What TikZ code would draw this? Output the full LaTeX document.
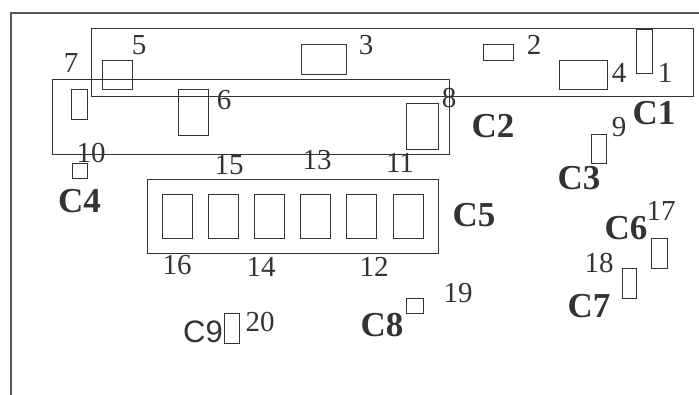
\documentclass[tikz,border=0pt]{standalone}
\usepackage{fontspec}
\setmainfont{Liberation Serif}
\newfontfamily\sansC{Liberation Sans}
\definecolor{ink}{HTML}{333333}
\definecolor{frame}{HTML}{555555}
\begin{document}
\begin{tikzpicture}[x=1pt,y=-1pt,
  part/.style={draw=ink,line width=0.8pt,inner sep=0pt,outer sep=0pt,fill=none},
  num/.style={inner sep=0pt,anchor=base,text=ink,font=\fontsize{29}{29}\selectfont},
  grp/.style={inner sep=0pt,anchor=base,text=ink,font=\fontsize{35}{35}\selectfont\bfseries},
  sgrp/.style={inner sep=0pt,anchor=base,text=ink,font=\fontsize{31}{31}\selectfont\sansC}]
\useasboundingbox (0,0) rectangle (699,395);
% frame
\coordinate (fTL) at (11,13);
\coordinate (fTR) at (699,13);
\coordinate (fBL) at (11,395);
\draw[frame,line width=1.3pt] (fTR) -- (fTL) -- (fBL);
% groups
\node[part,minimum width=602,minimum height=68] (gC1) at (392,62) {};
\node[part,minimum width=397,minimum height=75] (gC2) at (250.5,116.5) {};
\node[part,minimum width=291,minimum height=74] (gC5) at (292.5,216) {};
% parts
\node[part,minimum width=16,minimum height=44] (b1) at (644,51) {};
\node[part,minimum width=30,minimum height=16] (b2) at (498,52) {};
\node[part,minimum width=45,minimum height=30] (b3) at (323.5,59) {};
\node[part,minimum width=48,minimum height=29] (b4) at (583,74.5) {};
\node[part,minimum width=30,minimum height=29] (b5) at (117,74.5) {};
\node[part,minimum width=30,minimum height=46] (b6) at (193,112) {};
\node[part,minimum width=16,minimum height=30] (b7) at (79,104) {};
\node[part,minimum width=32,minimum height=46] (b8) at (422,126) {};
\node[part,minimum width=15,minimum height=29] (b9) at (598.5,148.5) {};
\node[part,minimum width=15,minimum height=15] (b10) at (79.5,170.5) {};
\foreach \i/\x in {1/177,2/223.2,3/269.4,4/315.6,5/361.8,6/408}
  \node[part,minimum width=30,minimum height=44] (c\i) at (\x,216) {};
\node[part,minimum width=16,minimum height=30] (b17) at (659,253) {};
\node[part,minimum width=14,minimum height=30] (b18) at (629,283) {};
\node[part,minimum width=17,minimum height=15] (b19) at (414.5,305.5) {};
\node[part,minimum width=15,minimum height=30] (b20) at (231.5,328) {};
% numbers
\node[num] (n1) at (665,83) {1};
\node[num] (n2) at (534,55) {2};
\node[num] (n3) at (366,55) {3};
\node[num] (n4) at (619,83) {4};
\node[num] (n5) at (139,55) {5};
\node[num] (n6) at (224,110) {6};
\node[num] (n7) at (71,73) {7};
\node[num] (n8) at (449,108) {8};
\node[num] (n9) at (619,137) {9};
\node[num] (n10) at (91,163) {10};
\node[num] (n11) at (400,173) {11};
\node[num] (n12) at (374,277) {12};
\node[num] (n13) at (317,170) {13};
\node[num] (n14) at (261,277) {14};
\node[num] (n15) at (229,175) {15};
\node[num] (n16) at (177,275) {16};
\node[num] (n17) at (661,221) {17};
\node[num] (n18) at (599,273) {18};
\node[num] (n19) at (458,303) {19};
\node[num] (n20) at (260,332) {20};
% group labels
\node[grp] (lC1) at (654,125) {C1};
\node[grp] (lC2) at (493,138) {C2};
\node[grp] (lC3) at (579,190) {C3};
\node[grp] (lC4) at (79.5,213) {C4};
\node[grp] (lC5) at (474,227) {C5};
\node[grp] (lC6) at (626,240) {C6};
\node[grp] (lC7) at (589,318) {C7};
\node[grp] (lC8) at (382,337) {C8};
\node[sgrp] (lC9) at (203,343) {C9};
\end{tikzpicture}
\end{document}
